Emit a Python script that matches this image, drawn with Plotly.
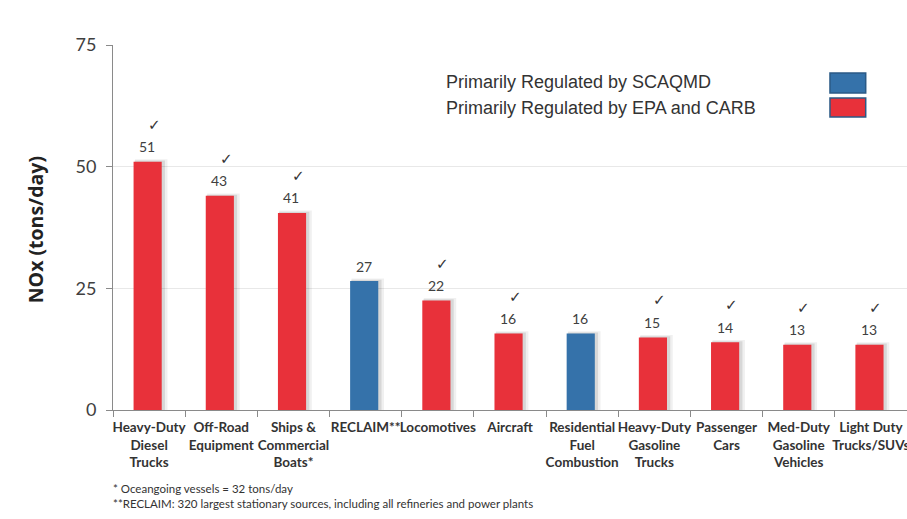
import plotly.graph_objects as go

categories = [
    "Heavy-Duty<br>Diesel<br>Trucks", "Off-Road<br>Equipment", "Ships &<br>Commercial<br>Boats*",
    "RECLAIM**", "Locomotives", "Aircraft", "Residential<br>Fuel<br>Combustion",
    "Heavy-Duty<br>Gasoline<br>Trucks", "Passenger<br>Cars", "Med-Duty<br>Gasoline<br>Vehicles",
    "Light Duty<br>Trucks/SUVs",
]
bar_heights = [51, 44, 40.5, 26.5, 22.5, 15.7, 15.7, 14.9, 13.9, 13.4, 13.4]
value_labels = ["51", "43", "41", "27", "22", "16", "16", "15", "14", "13", "13"]
regulator = ["EPA", "EPA", "EPA", "SCAQMD", "EPA", "EPA", "SCAQMD", "EPA", "EPA", "EPA", "EPA"]
y_ticks = [0, 25, 50, 75]

RED = "#E8313A"
BLUE = "#3572AA"
colors = [BLUE if r == "SCAQMD" else RED for r in regulator]

fig = go.Figure()
# soft shadow (two layers for a blurred look)
fig.add_trace(go.Bar(x=categories, y=[h + 0.5 for h in bar_heights], width=0.45, offset=-0.195,
                     marker=dict(color="rgba(0,0,0,0.06)", line=dict(width=0)),
                     hoverinfo="skip", showlegend=False))
fig.add_trace(go.Bar(x=categories, y=[h + 0.25 for h in bar_heights], width=0.42, offset=-0.2,
                     marker=dict(color="rgba(0,0,0,0.10)", line=dict(width=0)),
                     hoverinfo="skip", showlegend=False))
fig.add_trace(go.Bar(x=categories, y=bar_heights, width=0.39, offset=-0.215,
                     marker=dict(color=colors, line=dict(width=0)), showlegend=False))

for c, h, lab, r in zip(categories, bar_heights, value_labels, regulator):
    fig.add_annotation(x=c, y=h, text=lab, showarrow=False, yshift=15, xshift=-2,
                       font=dict(family="Lato", size=14, color="#404040"))
    if r != "SCAQMD":
        fig.add_annotation(x=c, y=h, text="✓", showarrow=False, yshift=37, xshift=5,
                           font=dict(family="DejaVu Sans", size=15, color="#333333"))

# y axis title
fig.add_annotation(xref="paper", yref="paper", x=-0.098, y=0.493, text="<b>NOx (tons/day)</b>",
                   textangle=-90, showarrow=False, xanchor="center", yanchor="middle",
                   font=dict(family="Open Sans", size=19.5, color="#222222"))

# legend
leg_font = dict(family="Liberation Sans", size=18, color="#333333")
fig.add_annotation(xref="paper", yref="paper", x=0.4175, y=0.8986, text="Primarily Regulated by SCAQMD",
                   showarrow=False, xanchor="left", yanchor="middle", font=leg_font)
fig.add_annotation(xref="paper", yref="paper", x=0.4175, y=0.8274, text="Primarily Regulated by EPA and CARB",
                   showarrow=False, xanchor="left", yanchor="middle", font=leg_font)
fig.add_shape(type="rect", xref="paper", yref="paper", x0=0.903, x1=0.948, y0=0.8685, y1=0.9233,
              fillcolor=BLUE, line=dict(color="#2B5A86", width=1.5))
fig.add_shape(type="rect", xref="paper", yref="paper", x0=0.903, x1=0.948, y0=0.8027, y1=0.8548,
              fillcolor=RED, line=dict(color="#2B5A86", width=1.5))

# footnotes
fn_font = dict(family="Lato", size=11.5, color="#333333")
fig.add_annotation(xref="paper", yref="paper", x=-0.002, y=-0.2137, text="* Oceangoing vessels = 32 tons/day",
                   showarrow=False, xanchor="left", yanchor="middle", font=fn_font)
fig.add_annotation(xref="paper", yref="paper", x=-0.002, y=-0.2548,
                   text="**RECLAIM: 320 largest stationary sources, including all refineries and power plants",
                   showarrow=False, xanchor="left", yanchor="middle", font=fn_font)

fig.update_layout(
    width=907, height=519,
    margin=dict(l=113, r=0, t=45, b=109, autoexpand=False),
    paper_bgcolor="white", plot_bgcolor="white",
    barmode="overlay", bargap=0.6,
    xaxis=dict(type="category", showline=True, linecolor="#8a8a8a", linewidth=1,
               ticks="outside", tickson="boundaries", ticklen=6, tickcolor="#8a8a8a",
               tickangle=0, automargin=False, ticklabelstandoff=5,
               tickfont=dict(family="Lato", size=13.5, color="#333333"), showgrid=False,
               tickprefix="<b>", ticksuffix="</b>", range=[-0.5, 10.5]),
    yaxis=dict(range=[0, 75], tickvals=y_ticks, showline=True, linecolor="#8a8a8a", linewidth=1,
               ticks="outside", ticklen=6, tickcolor="#8a8a8a", ticklabelstandoff=6,
               automargin=False,
               tickfont=dict(family="Lato", size=18, color="#404040"),
               showgrid=True, gridcolor="#E8E8E8", gridwidth=1, zeroline=False),
)

fig.write_html("out.html")
